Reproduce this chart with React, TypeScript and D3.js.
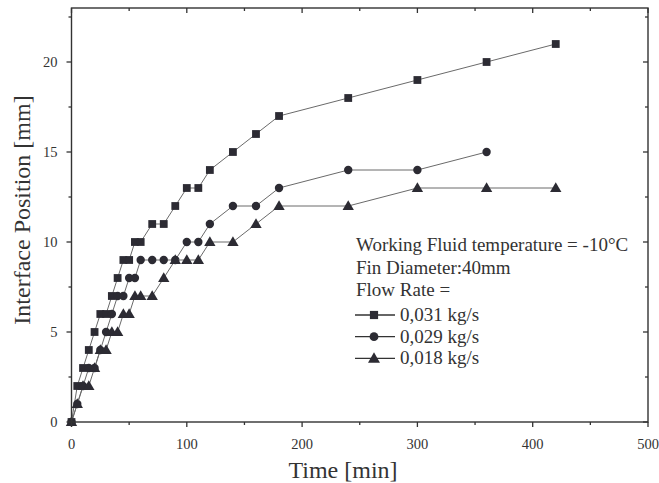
import * as d3 from 'd3'

const times = [0, 5, 10, 15, 20, 25, 30, 35, 40, 45, 50, 55, 60, 70, 80, 90, 100, 110, 120, 140, 160, 180, 240, 300, 360, 420]
const flow031 = [0, 2, 3, 4, 5, 6, 6, 7, 8, 9, 9, 10, 10, 11, 11, 12, 13, 13, 14, 15, 16, 17, 18, 19, 20, 21]
const flow029 = [0, 1, 2, 3, 3, 4, 5, 6, 7, 7, 8, 8, 9, 9, 9, 9, 10, 10, 11, 12, 12, 13, 14, 14, 15]
const flow018 = [0, 1, 2, 2, 3, 4, 4, 5, 5, 6, 6, 7, 7, 7, 8, 9, 9, 9, 10, 10, 11, 12, 12, 13, 13, 13]

const seriesNames = ['0,031 kg/s', '0,029 kg/s', '0,018 kg/s']
const seriesShapes = ['square', 'circle', 'triangle']
const legendLines = ['Working Fluid temperature = -10°C', 'Fin Diameter:40mm', 'Flow Rate =']

const xTicks = [0, 100, 200, 300, 400, 500]
const yTicks = [0, 5, 10, 15, 20]

const W = 659
const H = 483
const m = { left: 71.5, right: 11, top: 8, bottom: 61 }
const ink = '#2c2b33'
const lineCol = '#6a6a6a'
const axisCol = '#333'
const font = '"Liberation Serif", "Times New Roman", serif'

function Marker({ shape, x, y, s = 1 }: { shape: string; x: number; y: number; s?: number }) {
  if (shape === 'square') return <rect x={x - 3.9 * s} y={y - 3.9 * s} width={7.8 * s} height={7.8 * s} fill={ink} />
  if (shape === 'circle') return <circle cx={x} cy={y} r={4.2 * s} fill={ink} />
  const sym = d3.symbol(d3.symbolTriangle, 56 * s * s)()
  return <path d={sym || ''} transform={`translate(${x},${y + 0.8})`} fill={ink} />
}

export default function App() {
  const x = d3.scaleLinear().domain([0, 500]).range([m.left, W - m.right])
  const y = d3.scaleLinear().domain([0, 23]).range([H - m.bottom, m.top])
  const x0 = x(0), x1 = x(500), y0 = y(0), y1 = y(23)

  const all = [flow031, flow029, flow018]
  const line = d3.line<[number, number]>().x(d => x(d[0])).y(d => y(d[1]))

  const xMinor = d3.range(50, 500, 100)
  const yMinor = d3.range(2.5, 23, 5)

  return (
    <svg width={W} height={H} style={{ position: 'absolute', left: 0, top: 0, background: '#fff' }} fontFamily={font}>
      {/* series */}
      {all.map((vals, i) => {
        const pts = vals.map((v, j) => [times[j], v] as [number, number])
        return (
          <g key={i}>
            <path d={line(pts) || ''} fill="none" stroke={lineCol} strokeWidth={1} />
            {pts.map((p, j) => <Marker key={j} shape={seriesShapes[i]} x={x(p[0])} y={y(p[1])} />)}
          </g>
        )
      })}

      {/* frame */}
      <rect x={x0} y={y1} width={x1 - x0} height={y0 - y1} fill="none" stroke={axisCol} strokeWidth={1.4} />

      {/* x ticks */}
      {xTicks.map(t => (
        <g key={'xt' + t}>
          <line x1={x(t)} x2={x(t)} y1={y0} y2={y0 + 5} stroke={axisCol} strokeWidth={1.3} />
          <line x1={x(t)} x2={x(t)} y1={y1} y2={y1 + 5} stroke={axisCol} strokeWidth={1.3} />
          <text x={x(t)} y={y0 + 27} textAnchor="middle" fontSize={14.5} fill="#333">{t}</text>
        </g>
      ))}
      {xMinor.map(t => (
        <g key={'xm' + t}>
          <line x1={x(t)} x2={x(t)} y1={y0} y2={y0 + 3} stroke={axisCol} strokeWidth={1.3} />
          <line x1={x(t)} x2={x(t)} y1={y1} y2={y1 + 3} stroke={axisCol} strokeWidth={1.3} />
        </g>
      ))}

      {/* y ticks */}
      {yTicks.map(t => (
        <g key={'yt' + t}>
          <line x1={x0 - 5} x2={x0} y1={y(t)} y2={y(t)} stroke={axisCol} strokeWidth={1.3} />
          <line x1={x1 - 5} x2={x1} y1={y(t)} y2={y(t)} stroke={axisCol} strokeWidth={1.3} />
          <text x={x0 - 14} y={y(t) + 5} textAnchor="end" fontSize={14.5} fill="#333">{t}</text>
        </g>
      ))}
      {yMinor.map(t => (
        <g key={'ym' + t}>
          <line x1={x0 - 3} x2={x0} y1={y(t)} y2={y(t)} stroke={axisCol} strokeWidth={1.3} />
          <line x1={x1 - 3} x2={x1} y1={y(t)} y2={y(t)} stroke={axisCol} strokeWidth={1.3} />
        </g>
      ))}

      {/* axis titles */}
      <text x={343} y={478} textAnchor="middle" fontSize={24} fill="#333">Time [min]</text>
      <text transform={`translate(30,210) rotate(-90)`} textAnchor="middle" fontSize={24} fill="#333">
        Interface Position [mm]
      </text>

      {/* legend */}
      {legendLines.map((s, i) => (
        <text key={s} x={356} y={251 + i * 22.5} fontSize={19} fill="#333">{s}</text>
      ))}
      {seriesNames.map((s, i) => {
        const ly = 315 + i * 21.7
        return (
          <g key={s}>
            <line x1={355} x2={395} y1={ly} y2={ly} stroke="#333" strokeWidth={1.3} />
            <Marker shape={seriesShapes[i]} x={374} y={ly} s={1.05} />
            <text x={400} y={ly + 6} fontSize={19} fill="#333">{s}</text>
          </g>
        )
      })}
    </svg>
  )
}
